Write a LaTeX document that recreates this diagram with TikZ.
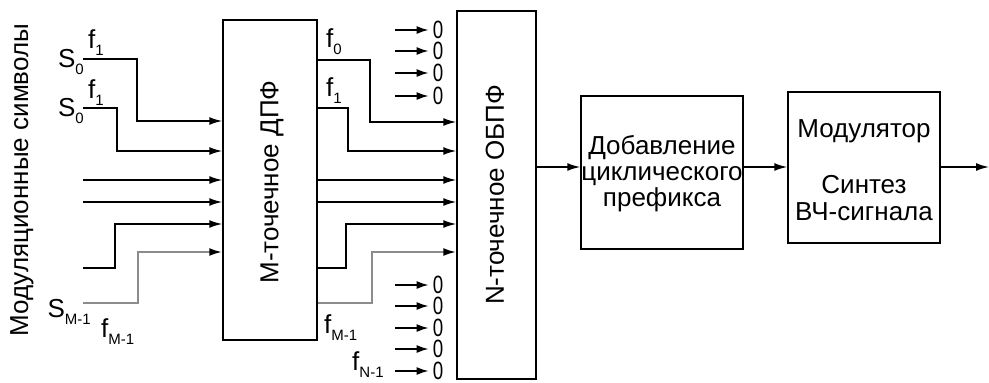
\documentclass[tikz,border=0pt]{standalone}
\usepackage{fontspec}
\setmainfont{Liberation Sans}
\usetikzlibrary{arrows.meta}
\newcommand{\lsub}[1]{\raisebox{-0.3em}{\fontsize{15}{15}\selectfont #1}}
\begin{document}
\begin{tikzpicture}[x=1pt,y=-1pt,
  every node/.style={font=\fontsize{26}{26}\selectfont, inner sep=0pt},
  box/.style={draw, line width=1.5pt, inner sep=0pt},
  ln/.style={line width=1.6pt},
  gl/.style={line width=2.2pt, draw=black!45},
  arr/.style={-{Latex[length=13pt,width=8pt,color=black]}},
  zarr/.style={line width=1.6pt,-{Latex[length=12pt,width=8pt]}},
  zero/.style={inner sep=0pt, font=\fontsize{25}{25}\selectfont}
]
\useasboundingbox (0,0) rectangle (989,383);

% blocks
\node[box, minimum width=94pt, minimum height=320pt] (dft) at (270,180) {};
\node[rotate=90] (dfttext) at (272,182) {М-точечное ДПФ};
\node[box, minimum width=79pt, minimum height=368pt] (ifft) at (496.5,195) {};
\node[rotate=90] (iffttext) at (495,195) {N-точечное ОБПФ};
\node[box, minimum width=162pt, minimum height=153pt] (cp) at (662,172.5) {};
\node[align=center] (cptext) at (662,174) {Добавление\\циклического\\префикса};
\node[box, minimum width=152pt, minimum height=151pt] (mod) at (864,167.5) {};
\node (modA) at (864,131) {Модулятор};
\node[align=center, font=\fontsize{26}{27}\selectfont] (modB) at (864,198) {Синтез\\ВЧ-сигнала};

% side label
\node[rotate=90] (lbl) at (22,180) {Модуляционные символы};

% chain
\coordinate (out) at (989,167);
\draw[ln,arr] (ifft.east |- 0,167) -- (cp.west |- 0,167);
\draw[ln,arr] (cp.east |- 0,167) -- (mod.west |- 0,167);
\draw[ln,arr] (mod.east |- out) -- (out);

% inputs
\coordinate (i1) at (83,59);
\coordinate (i2) at (83,108);
\coordinate (i3) at (83,180);
\coordinate (i4) at (83,202);
\coordinate (i5) at (83,268);
\coordinate (i6) at (83,303);
\draw[ln,arr] (i1) -- (137,59) |- (dft.west |- 0,121);
\draw[ln,arr] (i2) -- (117,108) |- (dft.west |- 0,151);
\draw[ln,arr] (i3) -- (dft.west |- i3);
\draw[ln,arr] (i4) -- (dft.west |- i4);
\draw[ln,arr] (i5) -- (115,268) |- (dft.west |- 0,224);
\draw[gl,arr] (i6) -- (138,303) |- (dft.west |- 0,252);

% DFT outputs
\draw[ln,arr] (dft.east |- 0,60) -- (370,60) |- (ifft.west |- 0,122);
\draw[ln,arr] (dft.east |- 0,108) -- (348,108) |- (ifft.west |- 0,151);
\draw[ln,arr] (dft.east |- 0,180) -- (ifft.west |- 0,180);
\draw[ln,arr] (dft.east |- 0,202) -- (ifft.west |- 0,202);
\draw[ln,arr] (dft.east |- 0,268) -- (346,268) |- (ifft.west |- 0,224);
\draw[gl,arr] (dft.east |- 0,303) -- (372,303) |- (ifft.west |- 0,252);

% zero inputs
\foreach \k/\yy in {1/30,2/51,3/73,4/96,5/285,6/306,7/328,8/349,9/371}{
  \node[zero] (z\k) at (438,\yy) {\scalebox{0.75}[1]{0}};
  \coordinate (zs\k) at (395,\yy);
  \draw[zarr] (zs\k) -- ([xshift=-4pt]z\k.west);
}

% labels
\node[anchor=base east] (s0a) at (84,67) {S\lsub{0}};
\node[anchor=base east] (s0b) at (84,116) {S\lsub{0}};
\node[anchor=base east] (sm) at (91,317) {S\lsub{M-1}};
\node[anchor=base west] (fa) at (88,48) {f\lsub{1}};
\node[anchor=base west] (fb) at (88,98) {f\lsub{1}};
\node[anchor=base west] (fc) at (101,337) {f\lsub{M-1}};
\node[anchor=base west] (fo0) at (326,47) {f\lsub{0}};
\node[anchor=base west] (fo1) at (326,96) {f\lsub{1}};
\node[anchor=base west] (fom) at (324,333) {f\lsub{M-1}};
\node[anchor=base west] (fon) at (352,370) {f\lsub{N-1}};
\end{tikzpicture}
\end{document}
